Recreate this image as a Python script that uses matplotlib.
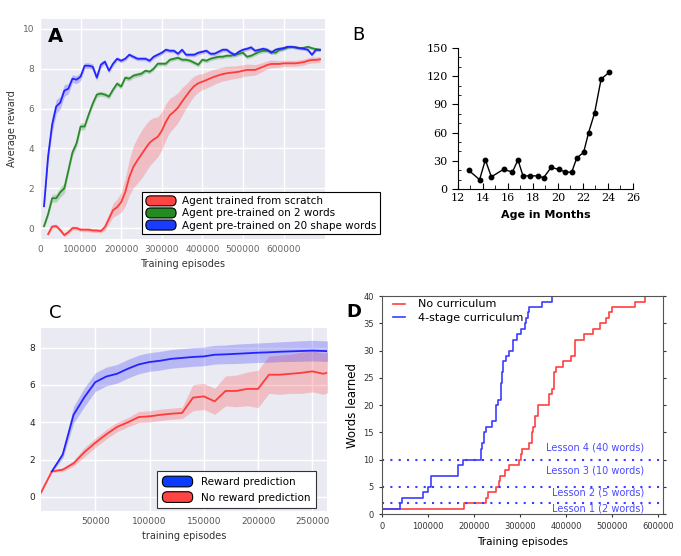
import numpy as np
import matplotlib
matplotlib.use("Agg")
import matplotlib.pyplot as plt
from matplotlib.patches import Patch, FancyBboxPatch
from matplotlib.legend_handler import HandlerPatch

# ---------------- Panel A data ----------------
a_x_blue = np.arange(10000, 700000, 10000)
a_blue = [1.1, 3.6, 5.2, 6.1, 6.3, 6.9, 7.0, 7.5, 7.45, 7.6,
          8.15, 8.15, 8.1, 7.55, 8.2, 8.35, 7.9, 8.25, 8.5, 8.4,
          8.5, 8.7, 8.6, 8.5, 8.5, 8.5, 8.4, 8.6, 8.7, 8.8,
          8.95, 8.9, 8.9, 8.75, 8.95, 8.7, 8.7, 8.7, 8.8, 8.85,
          8.9, 8.75, 8.75, 8.85, 8.95, 8.95, 8.8, 8.7, 8.85, 8.95,
          9.0, 9.07, 8.9, 8.95, 9.0, 8.95, 8.8, 8.95, 9.0, 9.03,
          9.1, 9.1, 9.07, 9.03, 9.0, 8.95, 8.7, 8.95, 8.95]
a_blue_sd = [0.1, 0.3, 0.4, 0.35, 0.3, 0.3, 0.25, 0.2, 0.2, 0.2,
             0.15, 0.15, 0.15, 0.15, 0.15, 0.12, 0.12, 0.12, 0.1, 0.1,
             0.1, 0.1, 0.1, 0.1, 0.1, 0.1, 0.1, 0.1, 0.1, 0.1,
             0.1, 0.1, 0.1, 0.1, 0.1, 0.1, 0.1, 0.1, 0.1, 0.1,
             0.1, 0.1, 0.1, 0.1, 0.1, 0.1, 0.1, 0.1, 0.1, 0.1,
             0.1, 0.1, 0.1, 0.1, 0.1, 0.1, 0.1, 0.1, 0.1, 0.1,
             0.08, 0.08, 0.08, 0.08, 0.08, 0.08, 0.08, 0.08, 0.08]

a_x_green = np.arange(10000, 700000, 10000)
a_green = [0.1, 0.7, 1.5, 1.5, 1.8, 2.0, 2.9, 3.8, 4.25, 5.1,
           5.1, 5.7, 6.25, 6.7, 6.75, 6.7, 6.6, 6.95, 7.25, 7.1,
           7.55, 7.5, 7.65, 7.7, 7.75, 7.9, 7.85, 8.0, 8.25, 8.25,
           8.25, 8.45, 8.5, 8.55, 8.45, 8.45, 8.4, 8.3, 8.2, 8.45,
           8.4, 8.5, 8.55, 8.6, 8.6, 8.65, 8.65, 8.7, 8.75, 8.8,
           8.6, 8.65, 8.75, 8.85, 8.9, 8.9, 8.85, 8.8, 8.95, 9.0,
           9.07, 9.1, 9.07, 9.03, 9.05, 9.1, 9.03, 8.98, 8.95]
a_green_sd = [0.1, 0.15, 0.2, 0.2, 0.25, 0.25, 0.2, 0.2, 0.2, 0.2,
              0.15, 0.15, 0.15, 0.15, 0.12, 0.12, 0.12, 0.12, 0.12, 0.12,
              0.12, 0.12, 0.12, 0.12, 0.12, 0.1, 0.1, 0.1, 0.1, 0.1,
              0.1, 0.1, 0.1, 0.1, 0.1, 0.1, 0.1, 0.1, 0.1, 0.1,
              0.1, 0.1, 0.1, 0.1, 0.1, 0.1, 0.1, 0.1, 0.1, 0.1,
              0.1, 0.1, 0.1, 0.1, 0.1, 0.1, 0.1, 0.1, 0.1, 0.1,
              0.08, 0.08, 0.08, 0.08, 0.08, 0.08, 0.08, 0.08, 0.08]

a_x_red = np.arange(20000, 700000, 10000)
a_red = [-0.3, 0.08, 0.1, -0.1, -0.35, -0.2, 0.0, 0.0, -0.08, -0.08,
         -0.08, -0.12, -0.12, -0.15, 0.05, 0.47, 0.9, 1.05, 1.3, 1.8,
         2.55, 3.07, 3.4, 3.7, 4.0, 4.28, 4.45, 4.58, 4.88, 5.33,
         5.67, 5.84, 6.05, 6.35, 6.63, 6.9, 7.13, 7.27, 7.35, 7.43,
         7.52, 7.6, 7.67, 7.73, 7.77, 7.8, 7.82, 7.85, 7.9, 7.94,
         7.94, 7.94, 8.02, 8.1, 8.19, 8.24, 8.24, 8.24, 8.27, 8.27,
         8.27, 8.27, 8.3, 8.33, 8.4, 8.44, 8.44, 8.47]
a_red_sd = [0.1, 0.1, 0.1, 0.1, 0.1, 0.1, 0.1, 0.1, 0.1, 0.1,
            0.1, 0.1, 0.1, 0.1, 0.15, 0.25, 0.35, 0.4, 0.5, 0.7,
            0.9, 1.05, 1.15, 1.2, 1.2, 1.15, 1.1, 1.0, 0.95, 0.9,
            0.85, 0.8, 0.75, 0.7, 0.6, 0.55, 0.5, 0.45, 0.4, 0.4,
            0.4, 0.38, 0.36, 0.35, 0.35, 0.33, 0.32, 0.31, 0.3, 0.3,
            0.28, 0.26, 0.24, 0.22, 0.2, 0.2, 0.18, 0.17, 0.15, 0.15,
            0.15, 0.15, 0.15, 0.15, 0.15, 0.15, 0.15, 0.15]

a_labels = ["Agent trained from scratch", "Agent pre-trained on 2 words",
            "Agent pre-trained on 20 shape words"]

# ---------------- Panel B data ----------------
b_months = [12.85, 13.73, 14.19, 14.67, 15.65, 16.35, 16.8, 17.2, 17.73, 18.4,
            18.85, 19.45, 20.05, 20.6, 21.1, 21.5, 22.05, 22.45, 22.93, 23.45, 24.08]
b_words = [20, 10, 31, 13, 21, 18, 31, 14, 14, 14,
           12, 23, 21, 18, 18, 33, 39, 60, 81, 117, 124]

# ---------------- Panel C data ----------------
c_x_blue = np.arange(10000, 280000, 10000)
c_blue = [1.37, 2.27, 4.4, 5.35, 6.15, 6.45, 6.6, 6.87, 7.1, 7.23,
          7.3, 7.4, 7.45, 7.5, 7.53, 7.62, 7.64, 7.67, 7.7, 7.73,
          7.75, 7.78, 7.8, 7.82, 7.84, 7.82, 7.8]
c_blue_sd = [0.05, 0.2, 0.45, 0.5, 0.5, 0.5, 0.5, 0.5, 0.5, 0.5,
             0.5, 0.5, 0.5, 0.5, 0.5, 0.5, 0.5, 0.52, 0.52, 0.52,
             0.53, 0.53, 0.54, 0.55, 0.55, 0.55, 0.55]

c_x_red = np.arange(0, 280000, 10000)
c_red = [0.23, 1.37, 1.46, 1.8, 2.4, 2.9, 3.35, 3.75, 4.0, 4.28,
         4.32, 4.4, 4.46, 4.5, 5.32, 5.39, 5.12, 5.68, 5.68, 5.79,
         5.79, 6.55, 6.55, 6.6, 6.65, 6.73, 6.6, 6.75]
c_red_sd = [0.02, 0.05, 0.1, 0.15, 0.25, 0.25, 0.25, 0.25, 0.25, 0.3,
            0.3, 0.3, 0.3, 0.3, 0.7, 0.7, 0.7, 0.8, 0.85, 0.9,
            1.0, 1.0, 1.05, 1.05, 1.1, 1.1, 1.1, 1.05]

c_labels = ["Reward prediction", "No reward prediction"]

# ---------------- Panel D data ----------------
d_x_curr = [0, 38000, 43000, 89000, 99600, 107000, 165000, 175000, 215000, 218000,
            222000, 226000, 238000, 248000, 252000, 258000, 261000, 263500, 269000, 276500,
            284000, 293000, 302000, 310000, 312600, 316000, 318000, 346500, 368000, 615000]
d_y_curr = [1, 2, 3, 4, 5, 7, 9, 10, 12, 13,
            15, 16, 17, 20, 21, 24, 26, 28, 29, 30,
            32, 33, 34, 35, 36, 37, 38, 39, 40, 40]

d_x_none = [0, 179000, 226000, 231000, 247700, 254000, 257000, 268000, 276500, 298000,
            302000, 304000, 320000, 325000, 327000, 333000, 338000, 363000, 370000, 374000,
            377000, 392000, 410000, 419000, 439000, 457000, 473000, 486000, 491700, 499000,
            549000, 571000, 615000]
d_y_none = [1, 2, 3, 4, 5, 6, 7, 8, 9, 10,
            11, 12, 13, 15, 16, 18, 20, 22, 23, 26,
            27, 28, 29, 32, 33, 34, 35, 36, 37, 38,
            39, 40, 40]

d_lesson_levels = [2, 5, 10]
d_lesson_texts = ["Lesson 1 (2 words)", "Lesson 2 (5 words)",
                  "Lesson 3 (10 words)", "Lesson 4 (40 words)"]
d_lesson_text_y = [1.05, 3.9, 8.0, 12.2]

RED = "#ff3b3b"
GREEN = "#2a8a2a"
BLUE = "#2424ff"


class RoundHandler(HandlerPatch):
    def create_artists(self, legend, orig_handle, xdescent, ydescent,
                       width, height, fontsize, trans):
        p = FancyBboxPatch((-xdescent, -ydescent), width, height,
                           boxstyle="round,pad=0,rounding_size=3.5",
                           facecolor=orig_handle.get_facecolor(),
                           edgecolor="black", lw=0.8, transform=trans)
        return [p]


def darkgrid(ax, tickcolor):
    ax.set_facecolor("#eaeaf2")
    for s in ax.spines.values():
        s.set_visible(False)
    ax.grid(True, color="white", lw=1.0)
    ax.set_axisbelow(True)
    ax.tick_params(length=0, labelsize=6.5, colors=tickcolor, pad=4)


def band(ax, x, y, sd, color, alpha=0.25):
    y = np.array(y)
    sd = np.array(sd)
    ax.fill_between(x, y - sd, y + sd, color=color, alpha=alpha, lw=0)
    ax.plot(x, y, color=color, lw=1.3)


fig = plt.figure(figsize=(6.81, 5.56), dpi=100)

# ---- A ----
axA = fig.add_axes([0.0587, 0.570, 0.419, 0.396])
darkgrid(axA, "#666666")
band(axA, a_x_red, a_red, a_red_sd, RED)
band(axA, a_x_green, a_green, a_green_sd, GREEN)
band(axA, a_x_blue, a_blue, a_blue_sd, BLUE)
axA.set_xlim(0, 703000)
axA.set_ylim(-0.55, 10.5)
axA.set_xticks(range(0, 700000, 100000))
axA.set_yticks(range(0, 11, 2))
axA.set_xlabel("Training episodes", fontsize=7, color="#333333")
axA.set_ylabel("Average reward", fontsize=7, color="#333333")
handlesA = [Patch(facecolor="#ff4444"), Patch(facecolor="#228b22"), Patch(facecolor="#1a3cff")]
legA = axA.legend(handlesA, a_labels, loc="upper left",
                  bbox_to_anchor=(137 / 681, 1 - 187 / 556), bbox_transform=fig.transFigure,
                  fontsize=7.5, frameon=True, fancybox=False, framealpha=1,
                  edgecolor="black", handlelength=2.9, handleheight=1.1,
                  labelspacing=0.15, borderpad=0.35, handletextpad=0.6,
                  handler_map={Patch: RoundHandler()})
legA.get_frame().set_linewidth(0.8)
fig.text(55 / 681, 1 - 37 / 556, "A", fontsize=14, fontweight="bold", va="center", ha="center")

# ---- B ----
axB = fig.add_axes([0.6725, 0.660, 0.257, 0.2536])
axB.plot(b_months, b_words, color="black", lw=1.0, marker="o", ms=3.2)
axB.set_xlim(12, 26)
axB.set_ylim(0, 150)
axB.spines["top"].set_visible(False)
axB.spines["right"].set_visible(False)
axB.set_xticks(range(12, 27, 2))
axB.set_xticks(range(13, 26, 2), minor=True)
axB.set_yticks(range(0, 151, 30))
axB.set_yticks(range(10, 150, 10), minor=True)
axB.tick_params(axis="x", which="major", direction="in", length=4, labelsize=8, pad=3)
axB.tick_params(axis="x", which="minor", direction="in", length=3)
axB.tick_params(axis="y", which="major", direction="out", length=4, labelsize=8)
axB.tick_params(axis="y", which="minor", direction="in", length=2)
for lab in axB.get_xticklabels() + axB.get_yticklabels():
    lab.set_family("DejaVu Serif")
axB.set_xlabel("Age in Months", fontsize=8, fontweight="bold", labelpad=5)
fig.text(358 / 681, 1 - 35 / 556, "B", fontsize=13, va="center", ha="center")

# ---- C ----
axC = fig.add_axes([0.0602, 0.081, 0.420, 0.329])
darkgrid(axC, "#222222")
band(axC, c_x_red, c_red, c_red_sd, RED)
band(axC, c_x_blue, c_blue, c_blue_sd, BLUE)
axC.set_xlim(0, 263500)
axC.set_ylim(-0.75, 9.05)
axC.set_xticks(range(50000, 260000, 50000))
axC.set_yticks(range(0, 9, 2))
axC.tick_params(axis="x", colors="#555555")
axC.set_xlabel("training episodes", fontsize=7, color="#333333")
handlesC = [Patch(facecolor="#0a3cff"), Patch(facecolor="#ff4444")]
legC = axC.legend(handlesC, c_labels, loc="lower left",
                  bbox_to_anchor=(152 / 681, 1 - 513 / 556), bbox_transform=fig.transFigure,
                  fontsize=7.5, frameon=True, fancybox=False, framealpha=1,
                  edgecolor="#333333", handlelength=2.9, handleheight=1.2,
                  labelspacing=0.45, borderpad=0.5, handletextpad=0.8,
                  handler_map={Patch: RoundHandler()})
legC.get_frame().set_linewidth(0.8)
fig.text(55 / 681, 1 - 313 / 556, "C", fontsize=13, va="center", ha="center")

# ---- D ----
axD = fig.add_axes([0.561, 0.0755, 0.4126, 0.392])
axD.step(d_x_none, d_y_none, where="post", color="#ff4040", lw=1.2, label="No curriculum")
axD.step(d_x_curr, d_y_curr, where="post", color="#3c3cff", lw=1.2, label="4-stage curriculum")
for lvl in d_lesson_levels:
    axD.axhline(lvl, color="#3c3cff", lw=1.5, ls=(0, (1, 3)))
for t, ty in zip(d_lesson_texts, d_lesson_text_y):
    axD.text(569000, ty, t, color="#4a4aff", fontsize=7, ha="right", va="center")
axD.set_xlim(0, 610000)
axD.set_ylim(0, 40)
axD.set_xticks(range(0, 610000, 100000))
axD.set_yticks(range(0, 41, 5))
axD.tick_params(direction="out", labelsize=6, length=2.5, colors="#333333")
axD.tick_params(axis="y", right=True, which="both")
for s in axD.spines.values():
    s.set_color("#555555")
    s.set_linewidth(0.8)
axD.set_xlabel("Training episodes", fontsize=7.5)
axD.set_ylabel("Words learned", fontsize=8.5, labelpad=3)
axD.legend(loc="upper left", frameon=False, fontsize=8, handlelength=1.1,
           borderaxespad=0.2, labelspacing=0.3, handletextpad=1.2,
           bbox_to_anchor=(0.015, 1.015))
fig.text(354 / 681, 1 - 312 / 556, "D", fontsize=13, fontweight="bold", va="center", ha="center")

fig.savefig("out.png", dpi=100)
